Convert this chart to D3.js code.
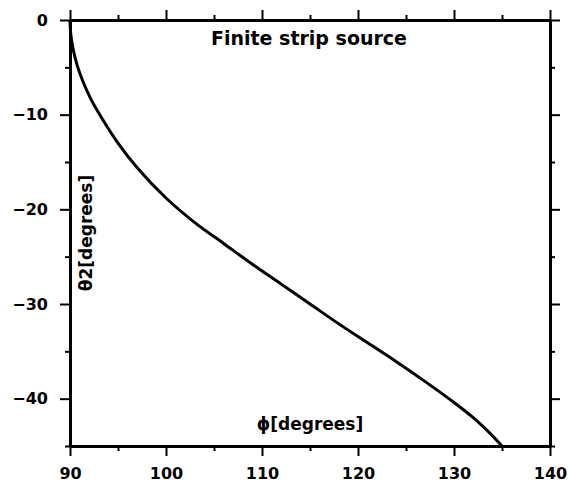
<!DOCTYPE html>
<html>
<head>
<meta charset="utf-8">
<script src="https://cdn.jsdelivr.net/npm/d3@7"></script>
<style>
  body { margin: 0; background: #fff; }
  text { font-family: "DejaVu Sans", sans-serif; font-weight: bold; fill: #000; }
</style>
</head>
<body>
<div id="chart"></div>
<script>
// phi (deg) vs theta2 (deg) for the finite strip source
var phi = [90, 90.08, 90.31, 90.75, 91.35, 92.15, 93.1, 95, 97, 100, 103, 106,
           109, 112, 115, 118, 121, 124, 127, 130, 132, 133.5, 135];
var theta2 = [0, -1.5, -3, -4.8, -6.5, -8.3, -10, -13, -15.6, -18.8, -21.4, -23.6,
              -25.8, -27.9, -30, -32.1, -34.1, -36.1, -38.2, -40.4, -42, -43.4, -45];

var xMajor = [90, 100, 110, 120, 130, 140];
var xMinor = [95, 105, 115, 125, 135];
var yMajor = [0, -10, -20, -30, -40];
var yMinor = [-5, -15, -25, -35, -45];

var width = 568, height = 487;
var margin = {top: 20, right: 18, bottom: 41, left: 70};

var svg = d3.select('#chart')
            .append('svg')
            .attr('width', width)
            .attr('height', height);

var x = d3.scaleLinear()
    .domain([90, 140])
    .range([margin.left, width - margin.right]);

var y = d3.scaleLinear()
    .domain([-45, 0])
    .range([height - margin.bottom, margin.top]);

var fmt = d => d3.format("d")(d).replace("-", "\u2212");

function side(axis, vals, size, labels) {
  return axis.tickValues(vals)
    .tickSize(size)
    .tickSizeOuter(0)
    .tickPadding(12)
    .tickFormat(labels ? fmt : "");
}

function drawAxis(tf, gen) {
  var g = svg.append("g").attr("transform", tf).call(gen);
  g.select(".domain").attr("stroke-width", 3);
  g.selectAll(".tick line").attr("stroke-width", 2);
  g.selectAll(".tick text")
    .style("font-size", "16px")
    .style("font-family", "DejaVu Sans")
    .style("font-weight", "bold");
  return g;
}

var bottomY = height - margin.bottom, rightX = width - margin.right;

// bottom and top
drawAxis("translate(0," + bottomY + ")", side(d3.axisBottom(x), xMajor, 10, true));
drawAxis("translate(0," + bottomY + ")", side(d3.axisBottom(x), xMinor, 5, false));
drawAxis("translate(0," + margin.top + ")", side(d3.axisTop(x), xMajor, 10, false));
drawAxis("translate(0," + margin.top + ")", side(d3.axisTop(x), xMinor, 5, false));

// left and right
drawAxis("translate(" + margin.left + ",0)", side(d3.axisLeft(y), yMajor, 10, true));
drawAxis("translate(" + margin.left + ",0)", side(d3.axisLeft(y), yMinor, 5, false));
drawAxis("translate(" + rightX + ",0)", side(d3.axisRight(y), yMajor, 10, false));
drawAxis("translate(" + rightX + ",0)", side(d3.axisRight(y), yMinor, 5, false));

var line = d3.line()
    .x((d, i) => x(phi[i]))
    .y(d => y(d))
    .curve(d3.curveCatmullRom.alpha(0.5));

svg.append("path")
   .datum(theta2)
   .attr("fill", "none")
   .attr("stroke", "#000")
   .attr("stroke-width", 3)
   .attr("d", line);

svg.append("text")
   .attr("x", 309)
   .attr("y", 45)
   .attr("text-anchor", "middle")
   .style("font-size", "19px")
   .text("Finite strip source");

svg.append("text")
   .attr("x", 310)
   .attr("y", 430)
   .attr("text-anchor", "middle")
   .style("font-size", "17px")
   .text("\u03d5[degrees]");

svg.append("text")
   .attr("transform", "translate(92,233) rotate(-90)")
   .attr("text-anchor", "middle")
   .style("font-size", "17px")
   .text("\u03b82[degrees]");
</script>
</body>
</html>
